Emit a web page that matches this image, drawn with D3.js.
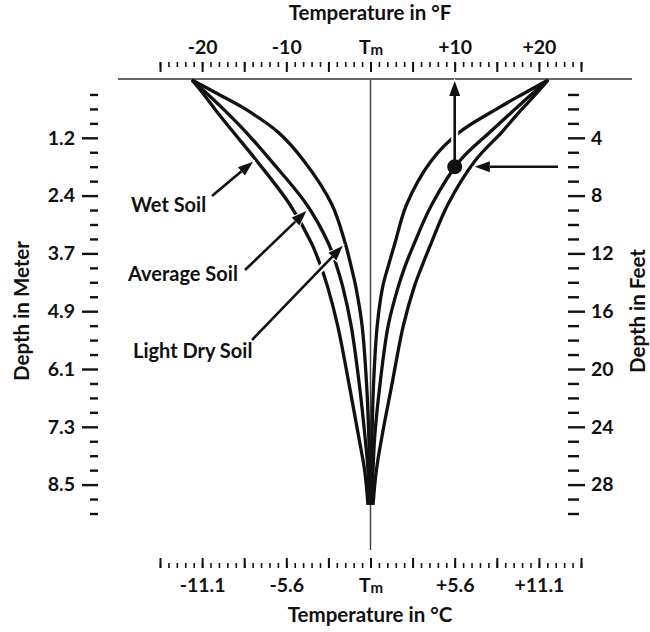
<!DOCTYPE html>
<html>
<head>
<meta charset="utf-8">
<script src="https://cdn.jsdelivr.net/npm/d3@7"></script>
<style>
  html, body { margin: 0; padding: 0; background: #fff; }
  svg { display: block; font-family: Lato, "Open Sans", sans-serif; font-weight: 700; }
</style>
</head>
<body>
<svg id="chart" width="650" height="632"></svg>
<script>
// Depth (ft) of the sampled points along each profile
const depthFt = [0, 1, 2, 3.6, 5.6, 8.6, 11.3, 12.9, 14.3, 17, 21.2, 24.7, 27, 29.4];

// Cold-season departure from mean temperature Tm (°F)
const wetColdF = [-21.2, -19.8, -18.5, -16.3, -13.5, -9.6, -7.0, -5.9, -5.1, -3.9, -2.5, -1.4, -0.7, -0.3];
const avgColdF = [-21.2, -19.3, -17.5, -14.8, -11.8, -7.6, -5.0, -4.0, -3.3, -2.3, -1.3, -0.65, -0.3, -0.2];
const dryColdF = [-21.2, -18.0, -14.9, -11.0, -7.9, -4.6, -3.0, -2.3, -1.75, -1.0, -0.45, -0.2, -0.12, -0.1];

// Warm-season departure from mean temperature Tm (°F)
const wetWarmF = [21.1, 19.6, 18.0, 15.6, 12.4, 9.2, 7.2, 6.1, 5.2, 3.9, 2.5, 1.35, 0.7, 0.3];
const avgWarmF = [21.1, 19.1, 17.2, 14.2, 10.6, 7.3, 5.2, 4.1, 3.3, 2.1, 1.1, 0.5, 0.3, 0.2];
const dryWarmF = [21.1, 18.0, 15.0, 10.6, 7.2, 4.3, 2.9, 2.1, 1.45, 0.8, 0.35, 0.18, 0.12, 0.1];

// Highlighted reading: +10 °F at 6 ft depth
const markDepthFt = 6;
const markTempF = 10;

// Axis ticks and labels
const labelTempsF = [-20, -10, 0, 10, 20];
const fahrenheitLabels = ["-20", "-10", "Tm", "+10", "+20"];
const celsiusLabels = ["-11.1", "-5.6", "Tm", "+5.6", "+11.1"];
const labelDepthsFt = [4, 8, 12, 16, 20, 24, 28];
const feetLabels = ["4", "8", "12", "16", "20", "24", "28"];
const meterLabels = ["1.2", "2.4", "3.7", "4.9", "6.1", "7.3", "8.5"];

const soilNames = ["Wet Soil", "Average Soil", "Light Dry Soil"];

const svg = d3.select("#chart");
const ink = "#111";

const x = d3.scaleLinear().domain([-25, 25]).range([370.5 - 25 * 8.42, 370.5 + 25 * 8.42]);
const y = d3.scaleLinear().domain([0, 30]).range([80, 80 + 30 * 14.45]);

const fLabel = new Map(labelTempsF.map((t, i) => [t, fahrenheitLabels[i]]));
const cLabel = new Map(labelTempsF.map((t, i) => [t, celsiusLabels[i]]));
const ftLabel = new Map(labelDepthsFt.map((d, i) => [d, feetLabels[i]]));
const mLabel = new Map(labelDepthsFt.map((d, i) => [d, meterLabels[i]]));

const minorTemps = d3.range(-25, 26, 1);
const majorTemps = d3.range(-25, 26, 5);
const minorDepths = d3.range(1, 31, 1);

function styleAxis(g, width) {
  g.select(".domain").remove();
  g.selectAll(".tick line").attr("stroke", ink).attr("stroke-width", width);
  g.selectAll(".tick text")
    .attr("fill", ink)
    .style("font-family", "Lato, 'Open Sans', sans-serif")
    .style("font-weight", 700)
    .style("font-size", "19.5px");
}

// Tm labels: T with a small m
function subscriptTm(g) {
  g.selectAll(".tick text").filter(function () { return this.textContent === "Tm"; })
    .each(function () {
      const t = d3.select(this);
      t.text(null);
      t.append("tspan").text("T");
      t.append("tspan").text("m").attr("font-size", "15px").attr("dy", "1");
    });
}

// Top (°F) axis — ticks hang from the label side
svg.append("g").attr("transform", "translate(0,62)")
  .call(d3.axisTop(x).tickValues(minorTemps).tickSizeInner(-5).tickSizeOuter(0).tickFormat(""))
  .call(g => styleAxis(g, 1.6));
svg.append("g").attr("transform", "translate(0,62)")
  .call(d3.axisTop(x).tickValues(majorTemps).tickSizeInner(-10).tickSizeOuter(0).tickPadding(8)
    .tickFormat(t => fLabel.get(t) || ""))
  .call(g => styleAxis(g, 2))
  .call(subscriptTm);

// Bottom (°C) axis
svg.append("g").attr("transform", "translate(0,568)")
  .call(d3.axisBottom(x).tickValues(minorTemps).tickSizeInner(-5).tickSizeOuter(0).tickFormat(""))
  .call(g => styleAxis(g, 1.6));
svg.append("g").attr("transform", "translate(0,568)")
  .call(d3.axisBottom(x).tickValues(majorTemps).tickSizeInner(-10).tickSizeOuter(0).tickPadding(10)
    .tickFormat(t => cLabel.get(t) || ""))
  .call(g => styleAxis(g, 2))
  .call(subscriptTm);

// Left (meter) axis
svg.append("g").attr("transform", "translate(98,0)")
  .call(d3.axisLeft(y).tickValues(minorDepths.filter(d => !ftLabel.has(d))).tickSizeInner(8).tickSizeOuter(0).tickFormat(""))
  .call(g => styleAxis(g, 2.4));
svg.append("g").attr("transform", "translate(98,0)")
  .call(d3.axisLeft(y).tickValues(labelDepthsFt).tickSizeInner(16).tickSizeOuter(0).tickPadding(7)
    .tickFormat(d => mLabel.get(d)))
  .call(g => styleAxis(g, 2.4));

// Right (feet) axis
svg.append("g").attr("transform", "translate(568,0)")
  .call(d3.axisRight(y).tickValues(minorDepths.filter(d => !ftLabel.has(d))).tickSizeInner(11).tickSizeOuter(0).tickFormat(""))
  .call(g => styleAxis(g, 2.4));
svg.append("g").attr("transform", "translate(568,0)")
  .call(d3.axisRight(y).tickValues(labelDepthsFt).tickSizeInner(17).tickSizeOuter(0).tickPadding(6)
    .tickFormat(d => ftLabel.get(d)))
  .call(g => styleAxis(g, 2.4));

// Axis titles
const titleStyle = sel => sel.attr("fill", ink).attr("font-size", "20.5px").attr("text-anchor", "middle");
svg.append("text").attr("x", 370).attr("y", 20).text("Temperature in °F").call(titleStyle);
svg.append("text").attr("x", 370).attr("y", 622).text("Temperature in °C").call(titleStyle);
svg.append("text").attr("transform", "translate(29,311) rotate(-90)").text("Depth in Meter").call(titleStyle);
svg.append("text").attr("transform", "translate(645,311) rotate(-90)").text("Depth in Feet").call(titleStyle);

// Surface line and Tm centre line
svg.append("line").attr("x1", 118).attr("x2", 632).attr("y1", y(0) - 1).attr("y2", y(0) - 1)
  .attr("stroke", "#333").attr("stroke-width", 1.6);
svg.append("line").attr("x1", x(0)).attr("x2", x(0)).attr("y1", y(0)).attr("y2", 550)
  .attr("stroke", "#444").attr("stroke-width", 1.5);

// Temperature envelopes
const profiles = [wetColdF, avgColdF, dryColdF, wetWarmF, avgWarmF, dryWarmF]
  .map(temps => temps.map((t, i) => ({ t, d: depthFt[i] })));
const line = d3.line().x(p => x(p.t)).y(p => y(p.d)).curve(d3.curveCatmullRom.alpha(0.5));
svg.append("g").selectAll("path").data(profiles).join("path")
  .attr("d", line).attr("fill", "none").attr("stroke", ink)
  .attr("stroke-width", 3.3).attr("stroke-linecap", "butt").attr("stroke-linejoin", "round");

// Temperature of a profile at any depth, from its neighbouring samples
function tempAt(temps, depth) {
  const i = Math.min(d3.bisectRight(depthFt, depth), depthFt.length - 1);
  const f = (depth - depthFt[i - 1]) / (depthFt[i] - depthFt[i - 1]);
  return temps[i - 1] + f * (temps[i] - temps[i - 1]);
}

// Arrow helper: white halo, shaft and filled head
const annot = svg.append("g");
function arrow(x1, y1, x2, y2) {
  const a = Math.atan2(y2 - y1, x2 - x1);
  const len = 15, half = 5.5;
  const bx = x2 - len * Math.cos(a), by = y2 - len * Math.sin(a);
  const px = -Math.sin(a) * half, py = Math.cos(a) * half;
  const head = `M${x2},${y2}L${bx + px},${by + py}L${bx - px},${by - py}Z`;
  annot.append("line").attr("x1", x1).attr("y1", y1).attr("x2", bx).attr("y2", by)
    .attr("stroke", "#fff").attr("stroke-width", 7);
  annot.append("path").attr("d", head).attr("fill", "#fff").attr("stroke", "#fff").attr("stroke-width", 2);
  annot.append("line").attr("x1", x1).attr("y1", y1).attr("x2", bx).attr("y2", by)
    .attr("stroke", ink).attr("stroke-width", 2.6);
  annot.append("path").attr("d", head).attr("fill", ink);
}

// Tip placed just short of a profile at the given depth
function tipToward(x1, y1, temps, depth, gap) {
  const tx = x(tempAt(temps, depth)), ty = y(depth);
  const a = Math.atan2(ty - y1, tx - x1);
  return [tx - gap * Math.cos(a), ty - gap * Math.sin(a)];
}

const soilLabels = [
  { name: soilNames[0], lx: 131, ly: 212, sx: 212, sy: 196, temps: wetColdF, depth: 5.5 },
  { name: soilNames[1], lx: 128, ly: 281, sx: 245, sy: 270, temps: avgColdF, depth: 8.9 },
  { name: soilNames[2], lx: 133, ly: 358, sx: 252, sy: 340, temps: dryColdF, depth: 11.3 }
];
soilLabels.forEach(s => {
  const [tx, ty] = tipToward(s.sx, s.sy, s.temps, s.depth, 3.5);
  arrow(s.sx, s.sy, tx, ty);
  annot.append("text").attr("x", s.lx).attr("y", s.ly).attr("fill", ink)
    .attr("font-size", "20px").text(s.name);
});

// Reading at 6 ft: pointer from the depth scale, marker, and arrow up to +10 °F
const my = y(markDepthFt), mx = x(markTempF);
arrow(558, my, x(tempAt(wetWarmF, markDepthFt)) + 3.5, my);
arrow(mx, my, mx, y(0) + 1);
annot.append("circle").attr("cx", mx).attr("cy", my).attr("r", 7.5).attr("fill", ink);
</script>
</body>
</html>
